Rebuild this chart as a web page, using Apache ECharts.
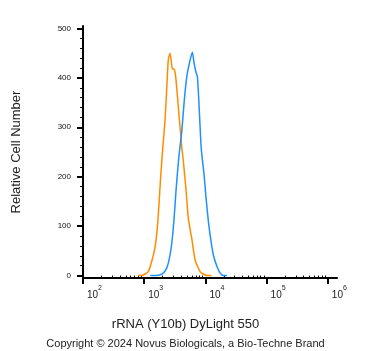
<!DOCTYPE html>
<html>
<head>
<meta charset="utf-8">
<script src="https://cdn.jsdelivr.net/npm/echarts@6/dist/echarts.min.js"></script>
<style>
  html, body { margin: 0; padding: 0; background: #fff; }
  #main { width: 371px; height: 351px; }
</style>
</head>
<body>
<div id="main"></div>
<script>
// log10 of fluorescence intensity, and cell counts
let orangeLog = [2.90, 2.957, 3.066, 3.121, 3.175, 3.213, 3.241, 3.269, 3.303, 3.339, 3.367, 3.393, 3.421, 3.459, 3.492, 3.515, 3.548, 3.585, 3.613, 3.639, 3.684, 3.721, 3.777, 3.831, 3.913, 4.023, 4.10];
let orangeCount = [0, 0, 8, 28, 56, 95, 143, 200, 258, 312, 375, 436, 450, 419, 417, 402, 355, 301, 261, 232, 172, 115, 75, 32, 8, 0, 0];
let blueLog = [3.10, 3.20, 3.30, 3.367, 3.421, 3.459, 3.492, 3.520, 3.548, 3.575, 3.613, 3.651, 3.695, 3.738, 3.787, 3.815, 3.843, 3.869, 3.892, 3.913, 3.934, 3.979, 4.011, 4.049, 4.093, 4.131, 4.187, 4.241, 4.295, 4.35];
let blueCount = [0, 0, 4, 15, 41, 75, 122, 172, 215, 250, 290, 349, 402, 430, 452, 430, 413, 402, 355, 301, 254, 203, 156, 109, 68, 41, 19, 5, 0, 0];

let decades = [2, 3, 4, 5, 6];
let yTicks = [0, 100, 200, 300, 400, 500];

let minorTicks = [];
decades.slice(0, -1).forEach(function (d) {
  for (let k = 2; k <= 9; k++) minorTicks.push(d + Math.log10(k));
});

function pairs(xs, ys) {
  return xs.map(function (x, i) { return [x, ys[i]]; });
}

let chart = echarts.init(document.getElementById('main'));
let font = 'Liberation Sans, Arial, sans-serif';

chart.setOption({
  animation: false,
  title: [
    {
      text: 'rRNA (Y10b) DyLight 550',
      left: 'center',
      top: 313,
      textStyle: { fontFamily: font, fontSize: 13, fontWeight: 'normal', color: '#222' }
    },
    {
      text: 'Copyright © 2024 Novus Biologicals, a Bio-Techne Brand',
      left: 'center',
      top: 333,
      textStyle: { fontFamily: font, fontSize: 11, fontWeight: 'normal', color: '#222' }
    }
  ],
  grid: { left: 83, right: 34, top: 26, bottom: 73 },
  xAxis: [
    {
      type: 'value',
      min: 2,
      max: 6.15,
      axisLine: { onZero: false, lineStyle: { color: '#000', width: 2 } },
      splitLine: { show: false },
      axisTick: { customValues: decades, length: 6, lineStyle: { color: '#000', width: 2 } },
      axisLabel: {
        customValues: decades,
        margin: 7,
        align: 'left',
        padding: [0, 0, 0, 4],
        formatter: function (v) { return '{b|10}{s|' + v + '}'; },
        rich: {
          b: { fontFamily: font, fontSize: 10, color: '#222', verticalAlign: 'bottom', lineHeight: 15 },
          s: { fontFamily: font, fontSize: 7, color: '#222', verticalAlign: 'top', lineHeight: 15 }
        }
      }
    },
    {
      type: 'value',
      min: 2,
      max: 6.15,
      position: 'bottom',
      axisLine: { show: false },
      splitLine: { show: false },
      axisTick: { customValues: minorTicks, length: 3, lineStyle: { color: '#000', width: 1 } },
      axisLabel: { show: false }
    }
  ],
  yAxis: {
    type: 'value',
    min: -5,
    max: 505,
    name: 'Relative Cell Number',
    nameLocation: 'middle',
    nameGap: 60,
    nameTextStyle: { fontFamily: font, fontSize: 13, color: '#222' },
    axisLine: { show: true, lineStyle: { color: '#000', width: 2 } },
    splitLine: { show: false },
    axisTick: { customValues: yTicks, length: 6, lineStyle: { color: '#000', width: 2 } },
    minorTick: { show: true, splitNumber: 5, length: 3, lineStyle: { color: '#000', width: 1 } },
    axisLabel: {
      customValues: yTicks,
      margin: 12,
      fontFamily: font,
      fontSize: 8,
      color: '#111'
    }
  },
  series: [
    {
      type: 'line',
      data: pairs(orangeLog, orangeCount),
      showSymbol: false,
      smooth: 0.2,
      lineStyle: { color: '#ff8c00', width: 1.5 },
      z: 3
    },
    {
      type: 'line',
      data: pairs(blueLog, blueCount),
      showSymbol: false,
      smooth: 0.2,
      lineStyle: { color: '#1e90ff', width: 1.5 },
      z: 4
    }
  ]
});
</script>
</body>
</html>
